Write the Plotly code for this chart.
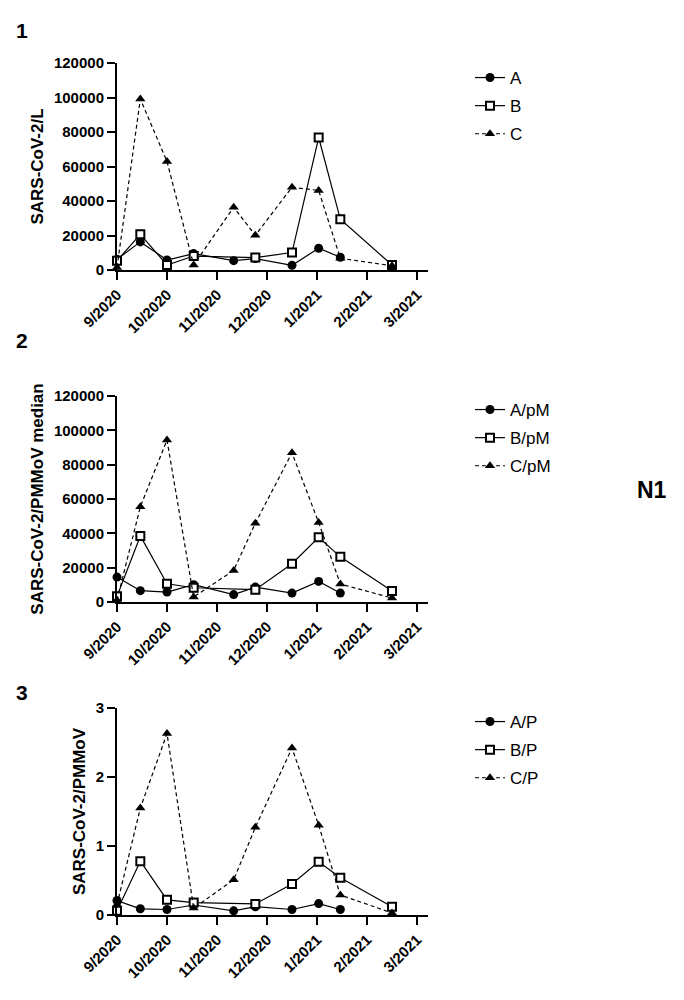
import plotly.graph_objects as go

# ---------------- data ----------------
# sampling days counted from 9/2020 (axis ticks every 30 days, labelled by month)
sample_day = [0, 14, 30, 46, 70, 83, 105, 121, 134, 165]
day_A = [0, 14, 30, 46, 70, 83, 105, 121, 134]
day_B = [0, 14, 30, 46, 83, 105, 121, 134, 165]
day_C = [0, 14, 30, 46, 70, 83, 105, 121, 134, 165]

month_ticks = [0, 30, 60, 90, 120, 150, 180]
month_labels = ["9/2020", "10/2020", "11/2020", "12/2020", "1/2021", "2/2021", "3/2021"]

# panel 1: SARS-CoV-2/L
p1_A = [6200, 16300, 5800, 9500, 5400, 6600, 2700, 12600, 7400]
p1_B = [5400, 20700, 2900, 8100, 7200, 10100, 76800, 29400, 2900]
p1_C = [1500, 99100, 62900, 2900, 36400, 20100, 48000, 46100, 6800, 2500]

# panel 2: SARS-CoV-2/PMMoV median
p2_A = [14500, 6600, 5800, 10100, 4300, 8700, 5200, 12000, 5200]
p2_B = [3300, 38500, 10600, 8300, 7200, 22300, 37700, 26300, 6400]
p2_C = [1000, 55500, 94300, 2900, 18400, 45900, 86900, 46300, 10500, 2300]

# panel 3: SARS-CoV-2/PMMoV
p3_A = [0.21, 0.09, 0.08, 0.145, 0.06, 0.12, 0.08, 0.165, 0.08]
p3_B = [0.06, 0.78, 0.22, 0.18, 0.16, 0.45, 0.77, 0.54, 0.12]
p3_C = [0.15, 1.55, 2.63, 0.10, 0.51, 1.27, 2.42, 1.30, 0.29, 0.03]

y_ticks_big = [0, 20000, 40000, 60000, 80000, 100000, 120000]
y_ticks_small = [0, 1, 2, 3]

panel_titles = ["SARS-CoV-2/L", "SARS-CoV-2/PMMoV median", "SARS-CoV-2/PMMoV"]
legend_names = [["A", "B", "C"], ["A/pM", "B/pM", "C/pM"], ["A/P", "B/P", "C/P"]]
panel_labels = ["1", "2", "3"]
side_label = "N1"

# ---------------- figure ----------------
FONT = "Liberation Sans, Arial, sans-serif"
W, H = 684, 1000

fig = go.Figure()

panels = [
    (p1_A, p1_B, p1_C),
    (p2_A, p2_B, p2_C),
    (p3_A, p3_B, p3_C),
]

for i, (ya, yb, yc) in enumerate(panels):
    ax = "" if i == 0 else str(i + 1)
    lg = "legend" if i == 0 else "legend" + str(i + 1)
    names = legend_names[i]
    fig.add_trace(go.Scatter(
        x=day_A, y=ya, name=names[0], mode="lines+markers",
        xaxis="x" + ax, yaxis="y" + ax, legend=lg, cliponaxis=False,
        legendgroup=f"g{i}a",
        line=dict(color="black", width=1.2),
        marker=dict(symbol="circle", size=9, color="black"),
    ))
    fig.add_trace(go.Scatter(
        x=day_B, y=yb, name=names[1], mode="lines+markers",
        xaxis="x" + ax, yaxis="y" + ax, legend=lg, cliponaxis=False,
        legendgroup=f"g{i}b",
        line=dict(color="black", width=1.2),
        marker=dict(symbol="square", size=8, color="white",
                    line=dict(color="black", width=2)),
    ))
    fig.add_trace(go.Scatter(
        x=day_C, y=yc, name=names[2], mode="lines+markers",
        xaxis="x" + ax, yaxis="y" + ax, legend=lg, cliponaxis=False,
        legendgroup=f"g{i}c",
        line=dict(color="black", width=1.2, dash="4px,3px"),
        marker=dict(symbol="triangle-up", size=9, color="black"),
    ))

# plot area pixel boxes (top, bottom)
boxes = [(63, 270), (396, 602), (708, 915)]
x_left, x_right = 117, 428
x_end_day = (x_right - x_left) * 30 / 50.0

axis_common = dict(
    showline=True, linecolor="black", linewidth=2,
    ticks="outside", ticklen=8, tickwidth=2, tickcolor="black",
    showgrid=False, zeroline=False, automargin=False,
    tickfont=dict(family=FONT, size=15, color="black", weight="bold"),
)

layout = dict(
    width=W, height=H, margin=dict(l=0, r=0, t=0, b=0, autoexpand=False),
    paper_bgcolor="white", plot_bgcolor="white",
    font=dict(family=FONT, color="black"),
)

for i, (top, bot) in enumerate(boxes):
    ax = "" if i == 0 else str(i + 1)
    layout["xaxis" + ax] = dict(
        axis_common,
        domain=[x_left / W, x_right / W],
        anchor="y" + ax,
        range=[0, x_end_day],
        tickmode="array", tickvals=month_ticks, ticktext=month_labels,
        tickangle=-45,
    )
    yt = y_ticks_big if i < 2 else y_ticks_small
    layout["yaxis" + ax] = dict(
        axis_common,
        domain=[1 - bot / H, 1 - top / H],
        anchor="x" + ax,
        range=[0, yt[-1]],
        tickmode="array", tickvals=yt, tickformat="d",
        title=dict(text=panel_titles[i], standoff=6,
                   font=dict(family=FONT, size=17, color="black", weight="bold")),
    )

legend_tops = [60, 392, 704]
for i, t in enumerate(legend_tops):
    key = "legend" if i == 0 else "legend" + str(i + 1)
    layout[key] = dict(
        x=470 / W, xanchor="left", y=1 - t / H, yanchor="top",
        font=dict(family=FONT, size=17, color="black"),
        bgcolor="rgba(0,0,0,0)", itemwidth=30,
        traceorder="grouped", tracegroupgap=3,
    )

fig.update_layout(**layout)

label_pos = [(22, 30), (22, 340), (22, 692)]
for lab, (px, py) in zip(panel_labels, label_pos):
    fig.add_annotation(
        text=lab, x=px / W, y=1 - py / H, xref="paper", yref="paper",
        showarrow=False, xanchor="center", yanchor="middle",
        font=dict(family=FONT, size=21, color="black", weight="bold"),
    )
fig.add_annotation(
    text=side_label, x=652 / W, y=1 - 490 / H, xref="paper", yref="paper",
    showarrow=False, xanchor="center", yanchor="middle",
    font=dict(family=FONT, size=23, color="black", weight="bold"),
)

fig.write_html("out.html", config={"displayModeBar": False},
               post_script="document.body.style.margin='0';")
